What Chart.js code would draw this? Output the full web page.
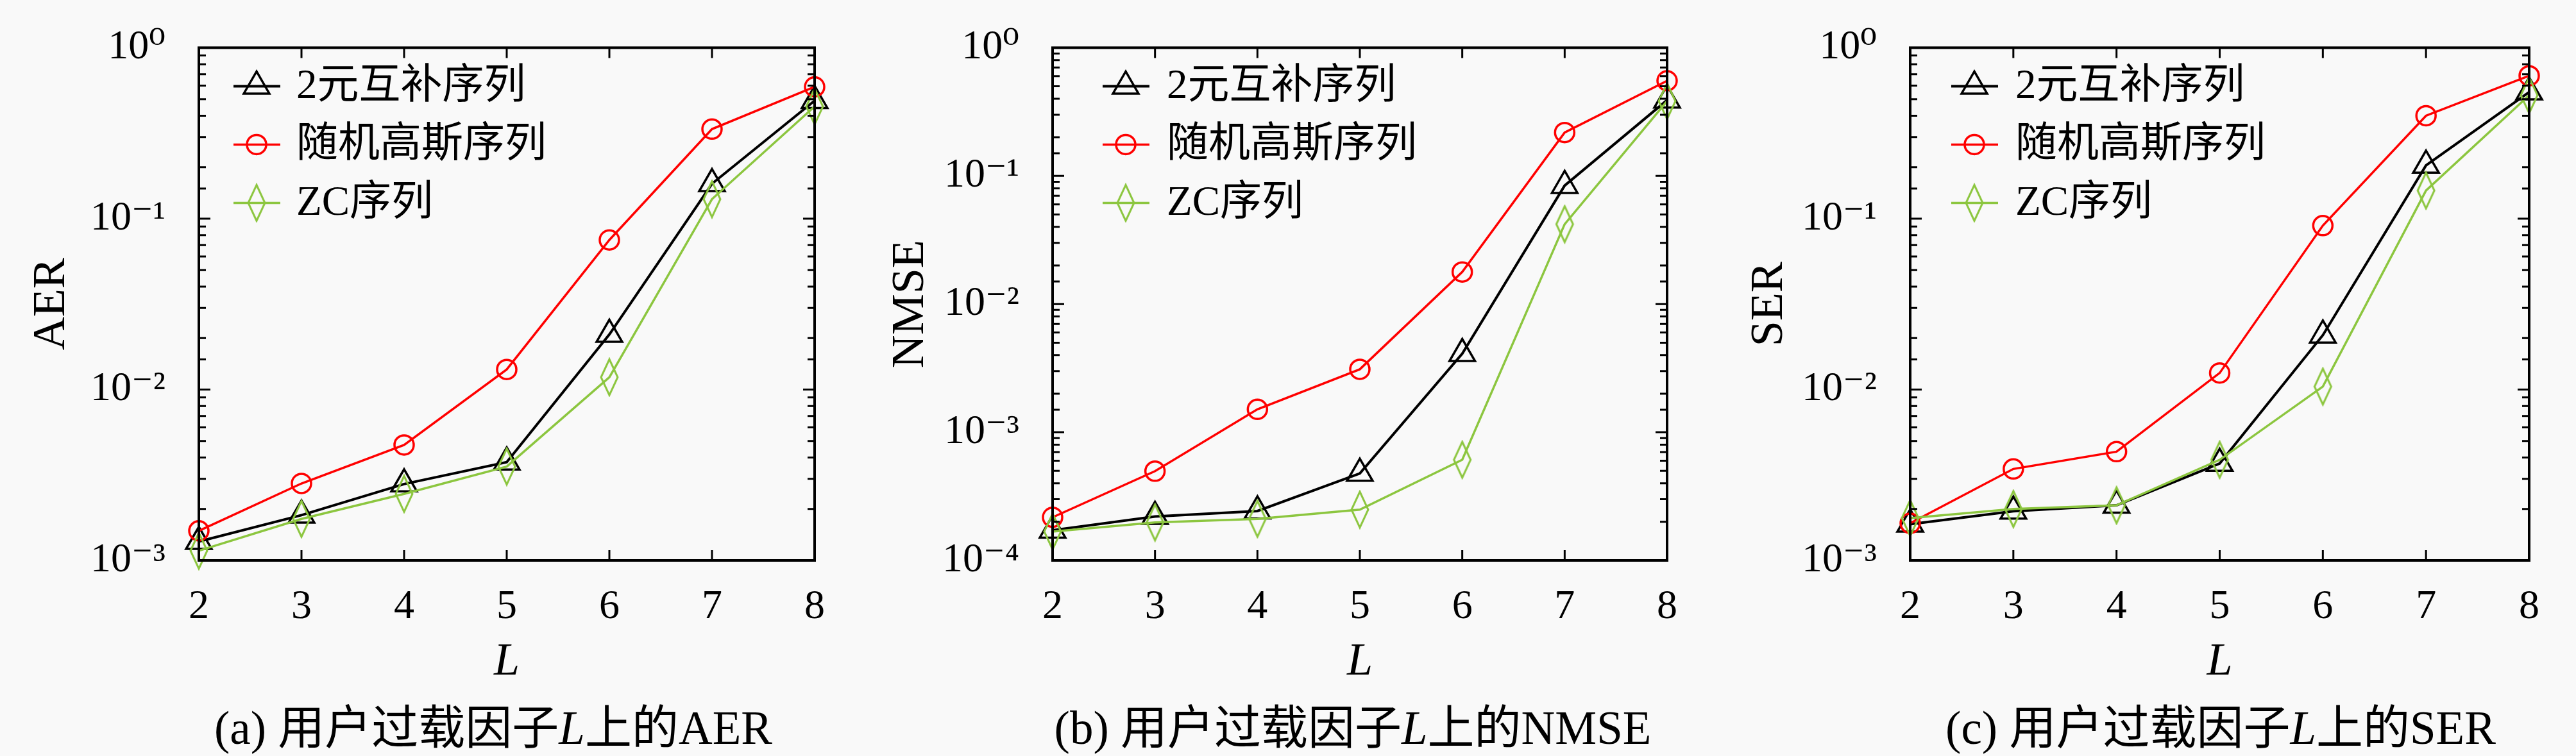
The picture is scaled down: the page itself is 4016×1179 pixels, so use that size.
<!DOCTYPE html>
<html>
<head>
<meta charset="utf-8">
<script src="https://cdn.jsdelivr.net/npm/chart.js@4/dist/chart.umd.min.js"></script>
<style>
  html, body { margin: 0; padding: 0; background: #f9f9f9; }
  #wrap { position: relative; width: 4016px; height: 1179px; overflow: hidden; background: #f9f9f9; }
  canvas { position: absolute; top: 0; }
  .cap { position: absolute; top: 1094px; height: 84px; line-height: 84px; font-size: 73px;
         font-family: "Liberation Serif", "Noto Sans CJK SC", serif; color: #000; white-space: nowrap;
         transform: translateX(-50%); }
  .cap i { font-style: italic; }
</style>
</head>
<body>
<div id="wrap">
  <canvas id="ca" width="1339" height="1179" style="left:0px"></canvas>
  <canvas id="cb" width="1339" height="1179" style="left:1339px"></canvas>
  <canvas id="cc" width="1338" height="1179" style="left:2678px"></canvas>
  <div class="cap" style="left:769px">(a) 用户过载因子<i>L</i>上的AER</div>
  <div class="cap" style="left:2109px">(b) 用户过载因子<i>L</i>上的NMSE</div>
  <div class="cap" style="left:3462px">(c) 用户过载因子<i>L</i>上的SER</div>
</div>
<script>
// ---------------- data ----------------
const categories = [2, 3, 4, 5, 6, 7, 8];
const xTickLabels = ['2', '3', '4', '5', '6', '7', '8'];
const seriesNames = ['2元互补序列', '随机高斯序列', 'ZC序列'];

const aerBinary = [1.29e-3, 1.84e-3, 2.8e-3, 3.76e-3, 2.1e-2, 0.16, 0.49];
const aerGauss  = [1.49e-3, 2.82e-3, 4.74e-3, 1.31e-2, 7.5e-2, 0.334, 0.59];
const aerZC     = [1.14e-3, 1.75e-3, 2.45e-3, 3.54e-3, 1.18e-2, 0.13, 0.453];

const nmseBinary = [1.72e-4, 2.2e-4, 2.43e-4, 4.77e-4, 4.1e-3, 8.4e-2, 0.39];
const nmseGauss  = [2.17e-4, 4.97e-4, 1.51e-3, 3.1e-3, 1.78e-2, 0.218, 0.552];
const nmseZC     = [1.68e-4, 1.98e-4, 2.11e-4, 2.49e-4, 6.1e-4, 4.2e-2, 0.383];

const serBinary = [1.63e-3, 1.94e-3, 2.1e-3, 3.69e-3, 2.08e-2, 0.205, 0.55];
const serGauss  = [1.65e-3, 3.43e-3, 4.33e-3, 1.25e-2, 9.1e-2, 0.4, 0.685];
const serZC     = [1.77e-3, 2.0e-3, 2.1e-3, 3.88e-3, 1.04e-2, 0.146, 0.527];

const yTickValues3 = [1e-3, 1e-2, 1e-1, 1];
const yTickLabels3 = ['10⁻³', '10⁻²', '10⁻¹', '10⁰'];
const yTickValues4 = [1e-4, 1e-3, 1e-2, 1e-1, 1];
const yTickLabels4 = ['10⁻⁴', '10⁻³', '10⁻²', '10⁻¹', '10⁰'];

// ---------------- styles ----------------
const BLACK = '#000000', RED = '#ff0000', GREEN = '#8cc63f';
const SERIF = '"Liberation Serif", "DejaVu Serif", serif';
const TXT = '"Liberation Serif", "Noto Sans CJK SC", serif';

function makeDiamond(w, h, lw, color) {
  const c = document.createElement('canvas');
  c.width = Math.ceil(w + lw * 2);
  c.height = Math.ceil(h + lw * 2);
  const g = c.getContext('2d');
  const cx = c.width / 2, cy = c.height / 2;
  g.strokeStyle = color; g.lineWidth = lw; g.lineJoin = 'miter';
  g.beginPath();
  g.moveTo(cx, cy - h / 2); g.lineTo(cx + w / 2, cy);
  g.lineTo(cx, cy + h / 2); g.lineTo(cx - w / 2, cy);
  g.closePath(); g.stroke();
  return c;
}
const diamondImg = makeDiamond(26, 56, 3, GREEN);

function pts(arr) { return categories.map((x, i) => ({ x: x, y: arr[i] })); }

function isDecade(v) { const l = Math.log10(v); return Math.abs(l - Math.round(l)) < 1e-9; }

const frameTicks = {
  id: 'frameTicks',
  afterDraw(chart) {
    const ctx = chart.ctx, a = chart.chartArea;
    const xs = chart.scales.x, ys = chart.scales.y;
    ctx.save();
    ctx.strokeStyle = '#000'; ctx.lineWidth = 3;
    ys.ticks.forEach(t => {
      const py = ys.getPixelForValue(t.value);
      const len = isDecade(t.value) ? 18 : 11;
      ctx.beginPath();
      ctx.moveTo(a.left, py); ctx.lineTo(a.left + len, py);
      ctx.moveTo(a.right, py); ctx.lineTo(a.right - len, py);
      ctx.stroke();
    });
    xs.ticks.forEach(t => {
      const px = xs.getPixelForValue(t.value);
      ctx.beginPath();
      ctx.moveTo(px, a.bottom); ctx.lineTo(px, a.bottom - 16);
      ctx.moveTo(px, a.top); ctx.lineTo(px, a.top + 16);
      ctx.stroke();
    });
    ctx.lineWidth = 4;
    ctx.strokeRect(a.left, a.top, a.right - a.left, a.bottom - a.top);
    ctx.restore();
  }
};

const legendInside = {
  id: 'legendInside',
  afterDraw(chart) {
    const o = chart.options.plugins.legendInside;
    const ctx = chart.ctx, a = chart.chartArea;
    const rows = [60, 151, 242];
    const ds = chart.data.datasets;
    ctx.save();
    ds.forEach((d, i) => {
      const y = a.top + rows[i];
      const x0 = a.left + o.lineStart, x1 = x0 + 73, xm = a.left + o.marker;
      ctx.strokeStyle = d.borderColor; ctx.lineWidth = d.borderWidth;
      ctx.beginPath(); ctx.moveTo(x0, y); ctx.lineTo(x1, y); ctx.stroke();
      const r = d.pointRadius;
      if (d.pointStyle === 'circle') {
        ctx.lineWidth = d.pointBorderWidth;
        ctx.beginPath(); ctx.arc(xm, y, r, 0, Math.PI * 2); ctx.stroke();
      } else if (d.pointStyle === 'triangle') {
        ctx.lineWidth = d.pointBorderWidth;
        ctx.beginPath();
        ctx.moveTo(xm, y - r);
        ctx.lineTo(xm + 0.866 * r, y + 0.5 * r);
        ctx.lineTo(xm - 0.866 * r, y + 0.5 * r);
        ctx.closePath(); ctx.stroke();
      } else {
        const img = d.pointStyle;
        ctx.drawImage(img, xm - img.width / 2, y - img.height / 2);
      }
      ctx.fillStyle = '#000';
      ctx.font = '65px ' + TXT;
      ctx.textBaseline = 'middle'; ctx.textAlign = 'left';
      ctx.fillText(seriesNames[i], a.left + o.text, y + 2);
    });
    ctx.restore();
  }
};

function makeChart(id, title, s1, s2, s3, yMin, tickVals, tickLabels, geom) {
  const datasets = [
    { label: seriesNames[0], data: pts(s1), borderColor: BLACK, borderWidth: 4,
      pointStyle: 'triangle', pointRadius: 23, pointBorderWidth: 3.5,
      pointBorderColor: BLACK, pointBackgroundColor: 'rgba(0,0,0,0)', order: 3, clip: false },
    { label: seriesNames[1], data: pts(s2), borderColor: RED, borderWidth: 3.5,
      pointStyle: 'circle', pointRadius: 15, pointBorderWidth: 3.5,
      pointBorderColor: RED, pointBackgroundColor: 'rgba(0,0,0,0)', order: 2, clip: false },
    { label: seriesNames[2], data: pts(s3), borderColor: GREEN, borderWidth: 3.5,
      pointStyle: diamondImg, pointRadius: 20, pointBorderWidth: 3,
      pointBorderColor: GREEN, pointBackgroundColor: 'rgba(0,0,0,0)', order: 1, clip: false }
  ];
  return new Chart(document.getElementById(id), {
    type: 'line',
    data: { datasets: datasets },
    options: {
      responsive: false, animation: false, devicePixelRatio: 1,
      layout: { padding: { left: 0, right: geom.right, top: 23, bottom: 0 } },
      plugins: { legend: { display: false }, tooltip: { enabled: false },
                 legendInside: geom.legend },
      elements: { line: { tension: 0 } },
      scales: {
        x: {
          type: 'linear', min: 2, max: 8,
          grid: { display: false, drawTicks: false },
          border: { display: false },
          ticks: { stepSize: 1, autoSkip: false, padding: 35, color: '#000',
                   font: { family: SERIF, size: 64 },
                   callback: (v) => { const i = categories.indexOf(v); return i >= 0 ? xTickLabels[i] : ''; } },
          title: { display: true, text: 'L', color: '#000',
                   font: { family: SERIF, size: 72, style: 'italic' },
                   padding: { top: 0, bottom: 103 } },
          afterFit: (s) => { s.height = 1179 - 874; }
        },
        y: {
          type: 'logarithmic', min: yMin, max: 1,
          grid: { display: false, drawTicks: false },
          border: { display: false },
          ticks: { autoSkip: false, padding: 52, color: '#000',
                   font: { family: SERIF, size: 64, lineHeight: 0.7 },
                   callback: (v) => {
                     for (let i = 0; i < tickVals.length; i++) {
                       if (Math.abs(v / tickVals[i] - 1) < 1e-6) return tickLabels[i];
                     }
                     return '';
                   } },
          title: { display: true, text: title, color: '#000',
                   font: { family: SERIF, size: 72 },
                   padding: { top: 38, bottom: 0 } },
          afterFit: (s) => { s.width = geom.left; }
        }
      }
    },
    plugins: [frameTicks, legendInside]
  });
}

makeChart('ca', 'AER', aerBinary, aerGauss, aerZC, 1e-3, yTickValues3, yTickLabels3,
  { left: 310, right: 69, legend: { lineStart: 54, marker: 90, text: 152 } });
makeChart('cb', 'NMSE', nmseBinary, nmseGauss, nmseZC, 1e-4, yTickValues4, yTickLabels4,
  { left: 302, right: 79, legend: { lineStart: 78, marker: 114, text: 178 } });
makeChart('cc', 'SER', serBinary, serGauss, serZC, 1e-3, yTickValues3, yTickLabels3,
  { left: 300, right: 73, legend: { lineStart: 64, marker: 100, text: 164 } });
</script>
</body>
</html>
